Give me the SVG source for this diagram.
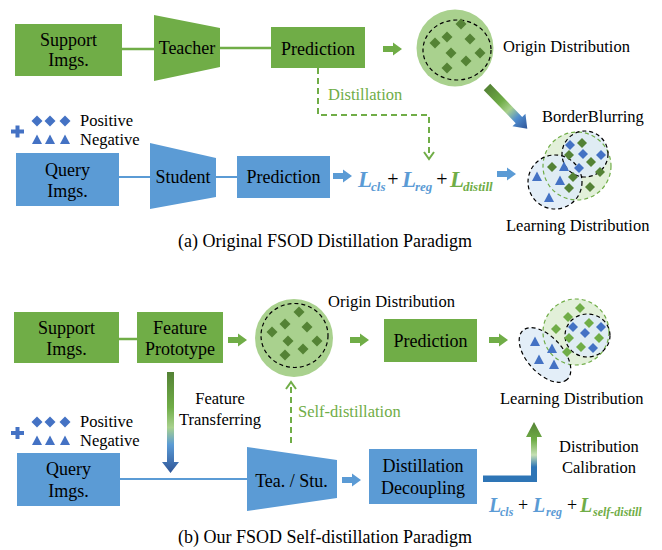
<svg xmlns="http://www.w3.org/2000/svg" width="662" height="550" viewBox="0 0 662 550" font-family="'Liberation Serif', 'DejaVu Serif', serif">
  <defs>
    <style>
      text { font-family: 'Liberation Serif', 'DejaVu Serif', serif; }
      .t { fill: #000; }
      .box { font-size: 18px; text-anchor: middle; }
      .lbl { font-size: 16.5px; }
      .mid { text-anchor: middle; }
      .cap { font-size: 18px; text-anchor: middle; }
      .gtxt { fill: #70ad47; }
      .gfill { fill: #70ad47; }
      .bfill { fill: #5b9bd5; }
      .gline { stroke: #70ad47; stroke-width: 2.5; fill: none; }
      .bline { stroke: #5b9bd5; stroke-width: 2; fill: none; }
      .dash { stroke: #70ad47; stroke-width: 2; fill: none; stroke-dasharray: 6 4; }
      .chev { stroke: #70ad47; stroke-width: 2; fill: none; }
      .Lbig { font-weight: bold; font-style: italic; }
      .lb { fill: #5b9bd5; }
      .lg { fill: #70ad47; }
      .dg { fill: #548235; }
      .lgd { fill: #70ad47; }
      .bl { fill: #4472c4; }
      .circ { fill: #a9d18e; }
      .inner { fill: none; stroke: #000; stroke-width: 1.2; stroke-dasharray: 4 3; }
      .gclus { fill: #e2f0d9; }
      .gclusS { fill: none; stroke: #70ad47; stroke-width: 1.2; stroke-dasharray: 4 3; }
      .bclus { fill: #deebf7; fill-opacity: 0.85; }
      .bclusS { fill: none; stroke: #000; stroke-width: 1.2; stroke-dasharray: 4 3; }
    </style>
    <path id="dia" d="M0,-5.5 L5.5,0 L0,5.5 L-5.5,0 Z"/>
    <path id="dias" d="M0,-5 L5,0 L0,5 L-5,0 Z"/>
    <path id="tri" d="M0,-5.5 L5,4 L-5,4 Z"/>
    <path id="plus" d="M-6.5,-2 H-2 V-6 H2 V-2 H6.5 V2 H2 V6 H-2 V2 H-6.5 Z"/>
    <path id="blk" d="M0,-3 H10 V-6.5 L19,0 L10,6.5 V3 H0 Z"/>
    <linearGradient id="gDiag" gradientUnits="userSpaceOnUse" x1="0" y1="0" x2="58" y2="0">
      <stop offset="0" stop-color="#548235"/>
      <stop offset="0.35" stop-color="#70ad47"/>
      <stop offset="0.55" stop-color="#a9d18e"/>
      <stop offset="0.75" stop-color="#4f8ccf"/>
      <stop offset="1" stop-color="#2f5597"/>
    </linearGradient>
    <linearGradient id="gDown" gradientUnits="userSpaceOnUse" x1="0" y1="372" x2="0" y2="473">
      <stop offset="0" stop-color="#548235"/>
      <stop offset="0.35" stop-color="#70ad47"/>
      <stop offset="0.55" stop-color="#a9d18e"/>
      <stop offset="0.72" stop-color="#5b9bd5"/>
      <stop offset="1" stop-color="#2f5597"/>
    </linearGradient>
    <linearGradient id="gUp" gradientUnits="userSpaceOnUse" x1="0" y1="482" x2="0" y2="422">
      <stop offset="0" stop-color="#2e75b6"/>
      <stop offset="0.25" stop-color="#2e75b6"/>
      <stop offset="0.45" stop-color="#c5e0b4"/>
      <stop offset="0.7" stop-color="#70ad47"/>
      <stop offset="1" stop-color="#548235"/>
    </linearGradient>
  </defs>

  <rect width="662" height="550" fill="#fff"/>

  <!-- connectors -->
  <g id="connectors">
    <!-- (a) -->
    <line class="gline" x1="122" y1="49" x2="155" y2="49"/>
    <line class="gline" x1="220" y1="48" x2="271" y2="48"/>
    <line class="bline" x1="119" y1="177" x2="151" y2="177"/>
    <line class="bline" x1="216" y1="177" x2="237" y2="177"/>
    <use href="#blk" x="383" y="49" class="gfill"/>
    <use href="#blk" x="333" y="176" class="bfill"/>
    <use href="#blk" x="497" y="174" class="bfill"/>
    <path class="dash" d="M318,68 V115 H429 V157"/>
    <path class="chev" d="M424,152 L429,159 L434,152"/>
    <g transform="translate(487,87) rotate(46)">
      <path d="M0,-4.5 H46 V-9 L58,0 L46,9 V4.5 H0 Z" fill="url(#gDiag)"/>
    </g>
    <!-- (b) -->
    <line class="gline" x1="119" y1="339" x2="137" y2="339"/>
    <use href="#blk" x="228" y="340" class="gfill"/>
    <use href="#blk" x="350" y="340" class="gfill"/>
    <use href="#blk" x="489" y="340" class="gfill"/>
    <line class="bline" x1="120" y1="479" x2="247" y2="479"/>
    <use href="#blk" x="342" y="480" class="bfill"/>
    <path d="M167,372 H174 V462 H179 L170.5,473 L162,462 H167 Z" fill="url(#gDown)"/>
    <path class="dash" d="M291,443 V386"/>
    <path class="chev" d="M286,389 L291,382 L296,389"/>
    <path d="M483,475.5 H531 V437 H526 L534,422 L542,437 H537 V482 H483 Z" fill="url(#gUp)"/>
  </g>

  <!-- (a) Original FSOD Distillation Paradigm -->
  <g id="a-support">
    <rect class="gfill" x="15" y="24" width="107" height="52"/>
    <text class="t box" x="68.5" y="46">Support</text>
    <text class="t box" x="68.5" y="66">Imgs.</text>
  </g>
  <g id="a-teacher">
    <polygon class="gfill" points="154,15 220,28 220,67 154,81"/>
    <text class="t box" x="187" y="54">Teacher</text>
  </g>
  <g id="a-prediction-t">
    <rect class="gfill" x="271" y="27" width="94" height="41"/>
    <text class="t box" x="318" y="55">Prediction</text>
  </g>
  <g id="a-origin">
    <circle class="circ" cx="455" cy="48" r="38.5"/>
    <ellipse class="inner" cx="457" cy="50" rx="34" ry="30"/>
    <g class="dg">
      <use href="#dia" x="461" y="24"/>
      <use href="#dia" x="447" y="37"/>
      <use href="#dia" x="435" y="43"/>
      <use href="#dia" x="470" y="39"/>
      <use href="#dia" x="451" y="53"/>
      <use href="#dia" x="480" y="53"/>
      <use href="#dia" x="466" y="61"/>
      <use href="#dia" x="447" y="68"/>
    </g>
    <text class="t lbl" x="503" y="52">Origin Distribution</text>
  </g>
  <g id="a-distill-label">
    <text class="t lbl gtxt" x="328" y="100">Distillation</text>
  </g>
  <g id="a-legend">
    <use href="#plus" x="17.5" y="131.5" class="bl"/>
    <g class="bl">
      <use href="#dia" x="37" y="121"/>
      <use href="#dia" x="50" y="121"/>
      <use href="#dia" x="65" y="121"/>
      <use href="#tri" x="37" y="140"/>
      <use href="#tri" x="50" y="140"/>
      <use href="#tri" x="65" y="140"/>
    </g>
    <text class="t lbl" x="80" y="126">Positive</text>
    <text class="t lbl" x="80" y="145">Negative</text>
  </g>
  <g id="a-query">
    <rect class="bfill" x="16" y="153" width="103" height="53"/>
    <text class="t box" x="67.5" y="176">Query</text>
    <text class="t box" x="67.5" y="197">Imgs.</text>
  </g>
  <g id="a-student">
    <polygon class="bfill" points="150,143 216,158 216,197 150,209"/>
    <text class="t box" x="183" y="183">Student</text>
  </g>
  <g id="a-prediction-s">
    <rect class="bfill" x="237" y="156" width="93" height="42"/>
    <text class="t box" x="283.5" y="183">Prediction</text>
  </g>
  <g id="a-loss">
    <text class="Lbig lb" x="358" y="187" font-size="23">L</text>
    <text class="Lbig lb" x="371" y="191" font-size="13">cls</text>
    <text class="t mid" x="393" y="186" font-size="20">+</text>
    <text class="Lbig lb" x="402" y="187" font-size="23">L</text>
    <text class="Lbig lb" x="415" y="191" font-size="13">reg</text>
    <text class="t mid" x="442" y="186" font-size="20">+</text>
    <text class="Lbig lg" x="450" y="187" font-size="23">L</text>
    <text class="Lbig lg" x="463" y="191" font-size="13">distill</text>
  </g>
  <g id="a-learning">
    <text class="t lbl" x="542" y="122">BorderBlurring</text>
    <circle class="gclus" cx="577" cy="166" r="34"/>
    <circle class="bclus" cx="585" cy="154" r="23"/>
    <circle class="bclus" cx="555" cy="182" r="27"/>
    <circle class="gclusS" cx="577" cy="166" r="34"/>
    <circle class="bclusS" cx="585" cy="154" r="23"/>
    <circle class="bclusS" cx="555" cy="182" r="27"/>
    <g class="bl">
      <use href="#dias" x="570" y="145"/>
      <use href="#dias" x="583" y="154"/>
      <use href="#dias" x="601" y="155"/>
      <use href="#dias" x="579" y="168"/>
      <use href="#tri" x="537" y="177"/>
      <use href="#tri" x="564" y="167"/>
      <use href="#tri" x="560" y="181"/>
      <use href="#tri" x="549" y="198"/>
    </g>
    <g class="dg">
      <use href="#dias" x="582" y="143"/>
      <use href="#dias" x="569" y="155"/>
      <use href="#dias" x="591" y="162"/>
      <use href="#dias" x="552" y="167"/>
      <use href="#dias" x="600" y="172"/>
      <use href="#dias" x="573" y="177"/>
      <use href="#dias" x="569" y="188"/>
      <use href="#dias" x="590" y="187"/>
    </g>
    <text class="t lbl" x="506" y="231">Learning Distribution</text>
  </g>
  <text class="t cap" x="325" y="247">(a) Original FSOD Distillation Paradigm</text>

  <!-- (b) Our FSOD Self-distillation Paradigm -->
  <g id="b-support">
    <rect class="gfill" x="14" y="312" width="105" height="51"/>
    <text class="t box" x="66.5" y="334">Support</text>
    <text class="t box" x="66.5" y="355">Imgs.</text>
  </g>
  <g id="b-prototype">
    <rect class="gfill" x="137" y="312" width="86" height="51"/>
    <text class="t box" x="180" y="334">Feature</text>
    <text class="t box" x="180" y="355">Prototype</text>
  </g>
  <g id="b-origin">
    <circle class="circ" cx="294" cy="338" r="39"/>
    <ellipse class="inner" cx="294.5" cy="335.5" rx="33.5" ry="32"/>
    <g class="dg">
      <use href="#dia" x="299" y="312"/>
      <use href="#dia" x="285" y="324"/>
      <use href="#dia" x="307" y="327"/>
      <use href="#dia" x="272" y="332"/>
      <use href="#dia" x="288" y="341"/>
      <use href="#dia" x="317" y="341"/>
      <use href="#dia" x="303" y="349"/>
      <use href="#dia" x="285" y="355"/>
    </g>
    <text class="t lbl" x="328" y="307">Origin Distribution</text>
  </g>
  <g id="b-prediction">
    <rect class="gfill" x="384" y="319" width="93" height="43"/>
    <text class="t box" x="430.5" y="347">Prediction</text>
  </g>
  <g id="b-learning">
    <circle class="gclus" cx="576" cy="332" r="33"/>
    <ellipse class="bclus" cx="587.5" cy="335.5" rx="22.5" ry="21.5"/>
    <ellipse class="bclus" cx="545" cy="355" rx="33" ry="18" transform="rotate(48 545 355)"/>
    <circle class="gclusS" cx="576" cy="332" r="33"/>
    <ellipse class="bclusS" cx="587.5" cy="335.5" rx="22.5" ry="21.5"/>
    <ellipse class="bclusS" cx="545" cy="355" rx="33" ry="18" transform="rotate(48 545 355)"/>
    <g class="lgd">
      <use href="#dias" x="580" y="308"/>
      <use href="#dias" x="568" y="317"/>
      <use href="#dias" x="556" y="329"/>
      <use href="#dias" x="589" y="323"/>
      <use href="#dias" x="569" y="338"/>
      <use href="#dias" x="599" y="338"/>
      <use href="#dias" x="581" y="347"/>
      <use href="#dias" x="567" y="352"/>
    </g>
    <g class="bl">
      <use href="#dias" x="573" y="327"/>
      <use href="#dias" x="585" y="333"/>
      <use href="#dias" x="601" y="327"/>
      <use href="#dias" x="593" y="348"/>
      <use href="#tri" x="535" y="342"/>
      <use href="#tri" x="552" y="349"/>
      <use href="#tri" x="539" y="360"/>
      <use href="#tri" x="554" y="365"/>
    </g>
    <text class="t lbl" x="500" y="404">Learning Distribution</text>
  </g>
  <g id="b-transfer-label">
    <text class="t lbl mid" x="220" y="404">Feature</text>
    <text class="t lbl mid" x="220" y="425">Transferring</text>
  </g>
  <g id="b-selfdistill-label">
    <text class="t lbl gtxt" x="298" y="417">Self-distillation</text>
  </g>
  <g id="b-legend">
    <use href="#plus" x="17.5" y="433" class="bl"/>
    <g class="bl">
      <use href="#dia" x="37" y="422"/>
      <use href="#dia" x="50" y="422"/>
      <use href="#dia" x="65" y="422"/>
      <use href="#tri" x="37" y="441"/>
      <use href="#tri" x="50" y="441"/>
      <use href="#tri" x="65" y="441"/>
    </g>
    <text class="t lbl" x="80" y="427">Positive</text>
    <text class="t lbl" x="80" y="446">Negative</text>
  </g>
  <g id="b-query">
    <rect class="bfill" x="17" y="453" width="103" height="53"/>
    <text class="t box" x="68.5" y="475">Query</text>
    <text class="t box" x="68.5" y="497">Imgs.</text>
  </g>
  <g id="b-teastu">
    <polygon class="bfill" points="247,447 337,460 337,498 247,511"/>
    <text class="t box" x="291.5" y="487">Tea. / Stu.</text>
  </g>
  <g id="b-decoupling">
    <rect class="bfill" x="369" y="449" width="108" height="55"/>
    <text class="t box" x="423" y="472">Distillation</text>
    <text class="t box" x="423" y="494">Decoupling</text>
  </g>
  <g id="b-calibration-label">
    <text class="t lbl mid" x="599" y="452">Distribution</text>
    <text class="t lbl mid" x="599" y="473">Calibration</text>
  </g>
  <g id="b-loss">
    <text class="Lbig lb" x="489" y="512" font-size="20">L</text>
    <text class="Lbig lb" x="500" y="516" font-size="12">cls</text>
    <text class="t mid" x="523" y="511" font-size="18">+</text>
    <text class="Lbig lb" x="533" y="512" font-size="20">L</text>
    <text class="Lbig lb" x="546" y="516" font-size="12">reg</text>
    <text class="t mid" x="572" y="511" font-size="18">+</text>
    <text class="Lbig lg" x="580" y="512" font-size="20">L</text>
    <text class="Lbig lg" x="593" y="516" font-size="12">self-distill</text>
  </g>
  <text class="t cap" x="325" y="543">(b) Our FSOD Self-distillation Paradigm</text>
</svg>
